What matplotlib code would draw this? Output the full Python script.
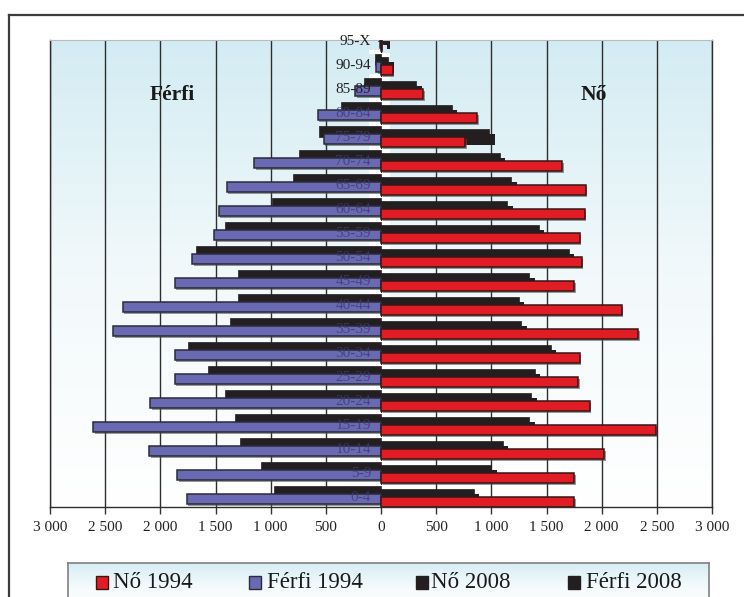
import numpy as np
import matplotlib
matplotlib.use('Agg')
import matplotlib.pyplot as plt
import matplotlib.patheffects as pe
from matplotlib.colors import LinearSegmentedColormap
from matplotlib.ticker import FuncFormatter, MultipleLocator
from matplotlib.patches import Rectangle
from matplotlib.lines import Line2D

plt.rcParams['font.family'] = ['Liberation Serif', 'DejaVu Serif']

# Age groups, bottom to top
ages = ['0-4', '5-9', '10-14', '15-19', '20-24', '25-29', '30-34', '35-39', '40-44', '45-49',
        '50-54', '55-59', '60-64', '65-69', '70-74', '75-79', '80-84', '85-89', '90-94', '95-X']

ferfi_1994 = [1760, 1850, 2100, 2610, 2090, 1870, 1870, 2430, 2340, 1870,
              1710, 1510, 1470, 1400, 1150, 520, 575, 235, 45, 5]
ferfi_2008 = [970, 1085, 1280, 1320, 1410, 1570, 1750, 1370, 1300, 1300,
              1675, 1410, 990, 795, 740, 560, 365, 150, 55, 25]
no_1994 = [1750, 1750, 2020, 2490, 1890, 1790, 1800, 2330, 2180, 1750,
           1820, 1800, 1845, 1855, 1640, 760, 870, 385, 105, 5]
no_2008 = [840, 1000, 1105, 1345, 1360, 1395, 1540, 1270, 1250, 1345,
           1700, 1430, 1145, 1180, 1075, 980, 640, 320, 65, 27]

legend_labels = ['Nő 1994', 'Férfi 1994', 'Nő 2008', 'Férfi 2008']

red = '#e01d25'
blue = '#6a6ab4'
black = '#231f20'

fig = plt.figure(figsize=(7.44, 5.97), dpi=100)
ax = fig.add_axes([50 / 744, 90 / 597, 662 / 744, 467 / 597])

y = np.arange(len(ages))
ylo, yhi = -0.333, 19.125
dy_r = -0.13  # right half sits a little lower

# background gradient
grad = np.linspace(0, 1, 256).reshape(-1, 1)
bg_cmap = LinearSegmentedColormap.from_list('bg', ['#ffffff', '#f2f9fb', '#d3ecf3'])
ax.imshow(grad, extent=[-3000, 3000, ylo, yhi], origin='lower', aspect='auto',
          cmap=bg_cmap, zorder=0)

# small white strips near the centre
ax.barh(y - 0.36, 110, left=-110, height=0.16, color='white', zorder=1)
ax.barh(y - 0.36 + dy_r, 80, left=0, height=0.16, color='white', zorder=1)

black_fx = [pe.SimplePatchShadow(offset=(4, -3.5), shadow_rgbFace=black, alpha=1.0), pe.Normal()]
col_fx = [pe.SimplePatchShadow(offset=(1.2, -1.2), shadow_rgbFace='#555555', alpha=0.6), pe.Normal()]

# 2008 bars (black, behind)
ax.barh(y + 0.33, [-v for v in ferfi_2008], height=0.46, color=black, edgecolor=black,
        linewidth=0.5, zorder=2, path_effects=black_fx)
ax.barh(y + 0.33 + dy_r, no_2008, height=0.46, color=black, edgecolor=black,
        linewidth=0.5, zorder=2, path_effects=black_fx)

# 1994 bars (coloured, in front)
ax.barh(y, [-v for v in ferfi_1994], height=0.42, color=blue, edgecolor='#2b2b3a',
        linewidth=1.1, zorder=3, path_effects=col_fx)
ax.barh(y + dy_r, no_1994, height=0.42, color=red, edgecolor='#3a1515',
        linewidth=1.1, zorder=3, path_effects=col_fx)

# age labels in the middle
for i, a in enumerate(ages):
    if i >= 17:
        ax.text(-90, i + 0.08, a, ha='right', va='center', fontsize=11, color='#222222', zorder=5)
    else:
        ax.text(-90, i + 0.08, a, ha='right', va='center', fontsize=11, color='#3b3b72',
                alpha=0.8, zorder=5)

ax.text(-1890, 16.83, 'Férfi', ha='center', va='center', fontsize=15.5, fontweight='bold',
        color='#1a1a1a', zorder=5)
ax.text(1926, 16.83, 'Nő', ha='center', va='center', fontsize=15.5, fontweight='bold',
        color='#1a1a1a', zorder=5)

ax.set_xlim(-3000, 3000)
ax.set_ylim(ylo, yhi)
ax.xaxis.set_major_locator(MultipleLocator(500))
ax.xaxis.set_major_formatter(FuncFormatter(lambda v, p: f"{abs(int(round(v))):,}".replace(',', ' ')))
ax.set_yticks([])
ax.tick_params(axis='x', direction='out', length=5, width=1, color='#333333',
               labelsize=11, pad=5, labelcolor='#222222')
ax.grid(axis='x', color='#2e2e2e', linewidth=1.0, zorder=1)
ax.set_axisbelow(True)
for s in ['left', 'right', 'bottom']:
    ax.spines[s].set_color('#2e2e2e')
    ax.spines[s].set_linewidth(1.0)
ax.spines['top'].set_color('#bbbbbb')

# outer frame (runs off the right and bottom of the picture)
fig.add_artist(Line2D([8.5 / 744, 8.5 / 744], [0, 1 - 15 / 597], color='#3c3c3c', lw=1.6))
fig.add_artist(Line2D([8.5 / 744, 1.0], [1 - 15 / 597, 1 - 15 / 597], color='#3c3c3c', lw=1.6))

# legend box
lax = fig.add_axes([68 / 744, -0.02, 641 / 744, 34 / 597 + 0.02])
lcmap = LinearSegmentedColormap.from_list('lg', ['#ffffff', '#f4fafc', '#d6edf4'])
lax.imshow(grad, extent=[0, 1, 0, 1], origin='lower', aspect='auto', cmap=lcmap)
lax.set_xlim(0, 1)
lax.set_ylim(0, 1)
lax.set_xticks([])
lax.set_yticks([])
for s in lax.spines.values():
    s.set_color('#808080')
    s.set_linewidth(1.2)

marker_x = [96, 249, 416, 568]
text_x = [113, 267, 431, 586]
leg_colors = [red, blue, black, black]
leg_edges = ['#3a1515', '#2b2b3a', black, black]
w_px = 641
h_px = 34 + 0.02 * 597
for mx, tx, lab, c, ec in zip(marker_x, text_x, legend_labels, leg_colors, leg_edges):
    yc = (597 - 582 - (-0.02 * 597)) / h_px
    lax.add_patch(Rectangle(((mx - 68) / w_px, yc - 6.5 / h_px), 12 / w_px, 13 / h_px,
                            facecolor=c, edgecolor=ec, lw=1.0, transform=lax.transAxes))
    lax.text((tx - 68) / w_px, yc, lab, ha='left', va='center', fontsize=16.5,
             color='#1a1a1a', transform=lax.transAxes)

fig.savefig('out.png', dpi=100)
